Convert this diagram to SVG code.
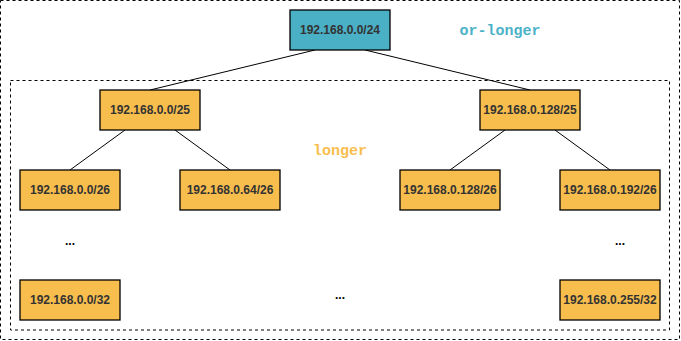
<svg xmlns="http://www.w3.org/2000/svg" width="681" height="341" viewBox="0 0 681 341">
<style>
.frame{fill:none;stroke:#000;stroke-width:1;stroke-dasharray:3 3}
.box{fill:#F8BE4D;stroke:#000;stroke-width:1.3}
.top{fill:#4AB0C5;stroke:#000;stroke-width:1.3}
.lbl{font-family:"Liberation Sans",Arial,sans-serif;font-weight:bold;font-size:12px;fill:#333;text-anchor:middle;dominant-baseline:central}
.dots{font-family:"Liberation Sans",Arial,sans-serif;font-weight:bold;font-size:12px;fill:#000;text-anchor:middle}
.mono{font-family:"Liberation Mono","Courier New",monospace;font-weight:bold;font-size:15px;text-anchor:middle;dominant-baseline:central}
.edge{stroke:#000;stroke-width:1;fill:none}
</style>
<rect class="frame" x="0.5" y="0.5" width="679" height="339"/>
<rect class="frame" x="10.5" y="80.5" width="659" height="249.5"/>
<g id="connectors">
<line class="edge" x1="315" y1="50" x2="150" y2="90"/>
<line class="edge" x1="365" y1="50" x2="530" y2="90"/>
<line class="edge" x1="125" y1="130" x2="70" y2="170"/>
<line class="edge" x1="175" y1="130" x2="230" y2="170"/>
<line class="edge" x1="505" y1="130" x2="450" y2="170"/>
<line class="edge" x1="555" y1="130" x2="610" y2="170"/>
</g>
<g id="n24"><rect class="top" x="290" y="10" width="100" height="40"/><text class="lbl" x="340" y="30">192.168.0.0/24</text></g>
<g id="n25a"><rect class="box" x="100" y="90" width="100" height="40"/><text class="lbl" x="150" y="110">192.168.0.0/25</text></g>
<g id="n25b"><rect class="box" x="480" y="90" width="100" height="40"/><text class="lbl" x="530" y="110">192.168.0.128/25</text></g>
<g id="n26a"><rect class="box" x="20" y="170" width="100" height="40"/><text class="lbl" x="70" y="190">192.168.0.0/26</text></g>
<g id="n26b"><rect class="box" x="180" y="170" width="100" height="40"/><text class="lbl" x="230" y="190">192.168.0.64/26</text></g>
<g id="n26c"><rect class="box" x="400" y="170" width="100" height="40"/><text class="lbl" x="450" y="190">192.168.0.128/26</text></g>
<g id="n26d"><rect class="box" x="560" y="170" width="100" height="40"/><text class="lbl" x="610" y="190">192.168.0.192/26</text></g>
<g id="n32a"><rect class="box" x="20" y="280" width="100" height="40"/><text class="lbl" x="70" y="300">192.168.0.0/32</text></g>
<g id="n32b"><rect class="box" x="560" y="280" width="100" height="40"/><text class="lbl" x="610" y="300">192.168.0.255/32</text></g>
<text class="dots" x="70" y="245">...</text>
<text class="dots" x="620" y="245">...</text>
<text class="dots" x="340" y="299">...</text>
<text class="mono" x="500" y="31" fill="#4BB2C8">or-longer</text>
<text class="mono" x="340" y="151" fill="#F8BE4D">longer</text>
</svg>
